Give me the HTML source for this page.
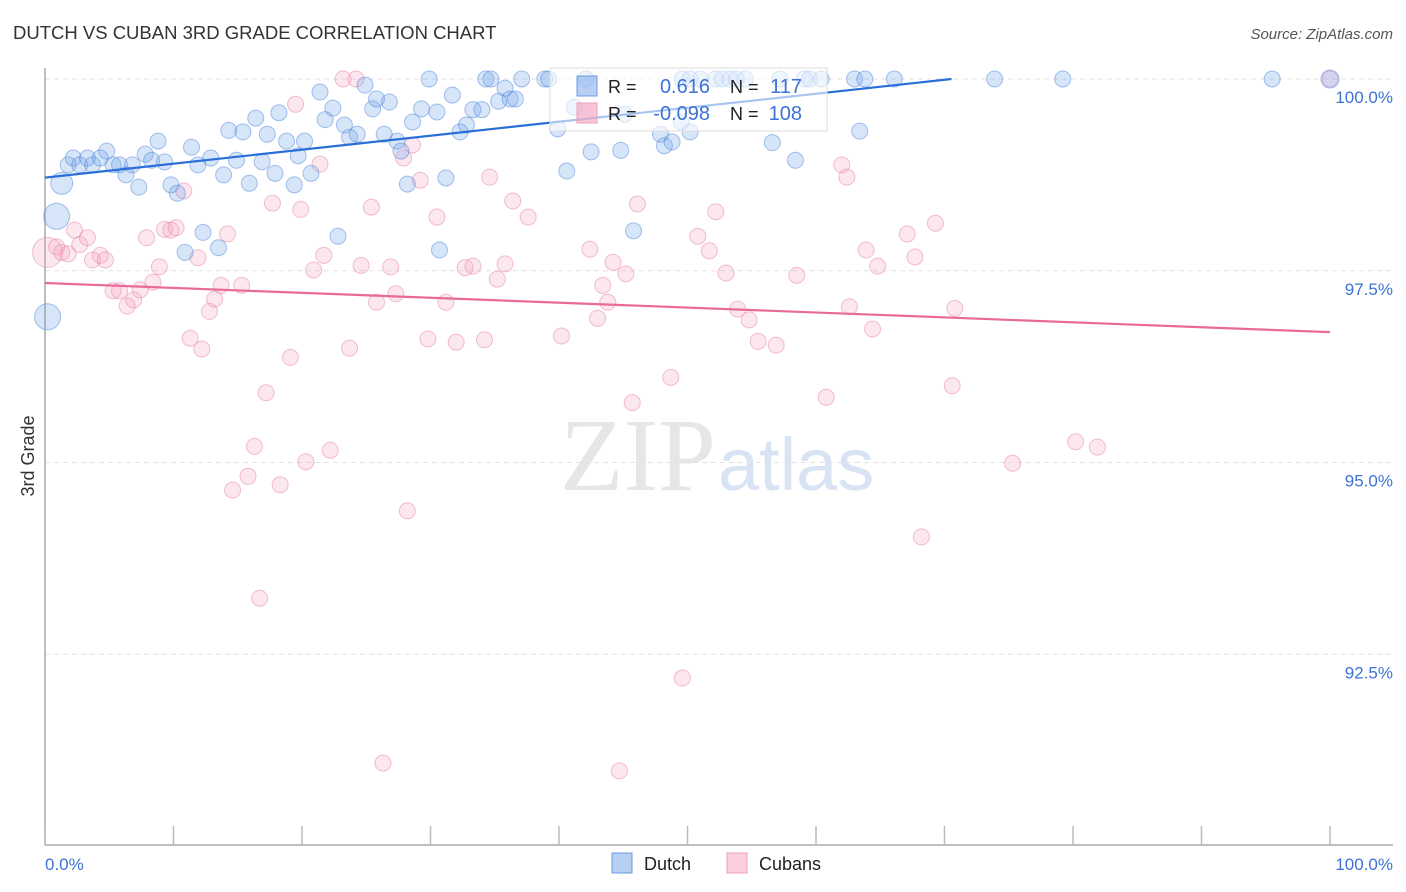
<!DOCTYPE html>
<html><head><meta charset="utf-8"><style>
body{margin:0;background:#fff;font-family:"Liberation Sans",sans-serif}
svg{display:block}
</style></head><body>
<svg id="chart" width="1406" height="892" xmlns="http://www.w3.org/2000/svg">
<text x="13" y="39" font-size="18.5" fill="#333">DUTCH VS CUBAN 3RD GRADE CORRELATION CHART</text>
<text x="1393" y="39" font-size="15" font-style="italic" fill="#555" text-anchor="end">Source: ZipAtlas.com</text>
<text x="716" y="490" font-size="104" font-family="Liberation Serif,serif" fill="#e6e6e6" text-anchor="end">ZIP</text>
<text x="718" y="490" font-size="74" fill="#d8e4f4">atlas</text>
<text transform="translate(34,456) rotate(-90)" font-size="18" fill="#333" text-anchor="middle">3rd Grade</text>
<g id="grid"></g><g id="axes"></g><g id="pts"></g><g id="trend"></g><g id="legend"></g>
</svg>
<script>
const dutchX=[1.3,0.9,0.2,1.8,2.2,2.7,3.3,3.7,4.3,4.8,5.3,5.8,6.3,6.8,7.3,7.8,8.3,8.8,9.3,9.8,10.3,10.9,11.4,11.9,12.3,12.9,13.5,13.9,14.3,14.9,15.4,15.9,16.4,16.9,17.3,17.9,18.2,18.8,19.4,19.7,20.2,20.7,21.4,21.8,22.4,22.8,23.3,23.7,24.3,24.9,25.5,25.8,26.4,26.8,27.4,27.7,28.2,28.6,29.3,29.9,30.5,31.2,30.7,31.7,32.3,32.8,33.3,34.0,34.3,34.7,35.3,35.8,36.2,36.6,37.1,38.9,39.2,39.9,40.6,41.2,42.1,42.5,44.8,45.1,45.8,47.9,48.2,48.8,49.5,50.2,49.6,50.2,51.0,52.2,52.7,53.3,53.8,54.5,56.6,57.2,58.4,59.1,59.5,60.4,63.0,63.4,63.8,66.1,73.9,79.2,95.5,100];
const dutchY=[98.64,98.21,96.90,98.88,98.97,98.88,98.97,98.88,98.97,99.06,98.88,98.88,98.75,98.88,98.59,99.02,98.94,99.19,98.92,98.62,98.51,97.74,99.11,98.88,98.00,98.97,97.80,98.75,99.33,98.94,99.31,98.64,99.49,98.92,99.28,98.77,99.56,99.19,98.62,99.00,99.19,98.77,99.83,99.47,99.62,97.95,99.40,99.24,99.28,99.92,99.61,99.74,99.28,99.70,99.19,99.06,98.63,99.44,99.61,100,99.57,98.71,97.77,99.79,99.31,99.40,99.60,99.60,100,100,99.71,99.88,99.74,99.74,100,100,100,99.35,98.80,99.63,100,99.05,99.07,99.54,98.02,99.28,99.13,99.18,99.44,99.31,100,100,100,100,100,100,100,100,99.17,100,98.94,100,100,100,100,99.32,100,100,100,100,100,100];
const dutchBig={0:11,1:13,2:13,111:9};
const cubanX=[0.2,0.9,1.3,1.8,2.3,2.7,3.3,3.7,4.3,4.7,5.3,5.8,6.4,6.9,7.4,7.9,8.4,8.9,9.3,9.8,10.2,10.8,11.3,11.9,12.2,12.8,13.2,13.7,14.2,15.3,14.6,15.8,16.3,16.7,17.2,17.7,18.3,19.1,19.5,19.9,20.3,20.9,21.4,21.7,22.2,23.2,23.7,24.2,24.6,25.4,25.8,26.3,26.9,27.3,27.9,28.2,28.6,29.2,29.8,30.5,31.2,32.0,32.7,33.3,34.2,34.6,35.2,35.8,36.4,37.6,40.2,42.0,42.4,43.4,43.8,44.2,43.0,44.7,45.2,45.7,46.1,48.7,49.6,50.8,51.7,52.2,53.0,53.9,54.8,55.5,56.9,58.5,60.8,62.0,62.4,62.6,63.9,64.4,64.8,67.1,67.7,68.2,69.3,70.6,70.8,75.3,80.2,81.9,100];
const cubanY=[97.74,97.81,97.74,97.72,98.03,97.84,97.93,97.64,97.70,97.64,97.24,97.24,97.04,97.12,97.25,97.93,97.35,97.55,98.04,98.03,98.06,98.54,96.62,97.67,96.48,96.97,97.13,97.31,97.98,97.31,94.64,94.82,95.21,93.23,95.91,98.38,94.71,96.37,99.67,98.30,95.01,97.51,98.89,97.70,95.16,100,96.49,100,97.57,98.33,97.09,91.08,97.55,97.20,98.97,94.37,99.14,98.68,96.61,98.20,97.09,96.57,97.54,97.56,96.60,98.72,97.39,97.59,98.41,98.20,96.65,99.57,97.78,97.31,97.09,97.61,96.88,90.98,97.46,95.78,98.37,96.11,92.19,97.95,97.76,98.27,97.47,97.00,96.86,96.58,96.53,97.44,95.85,98.88,98.72,97.03,97.77,96.74,97.56,97.98,97.68,94.03,98.12,96.00,97.01,94.99,95.27,95.20,100];
const cubanBig={0:15};
const yTicks=[100,97.5,95,92.5];
const yTickLabels=["100.0%","97.5%","95.0%","92.5%"];
const xTicks=[0,10,20,30,40,50,60,70,80,90,100];
const legendR=["0.616","-0.098"];
const legendN=["117","108"];
const NS="http://www.w3.org/2000/svg";
const X0=45,X1=1330,Y100=79,PX=76.7;
function xs(v){return X0+(v/100)*(X1-X0);}
function ys(v){return Y100+(100-v)*PX;}
function mk(tag,attrs,parent){const e=document.createElementNS(NS,tag);for(const k in attrs)e.setAttribute(k,attrs[k]);parent.appendChild(e);return e;}
const grid=document.getElementById('grid'),axes=document.getElementById('axes'),pts=document.getElementById('pts'),trend=document.getElementById('trend'),leg=document.getElementById('legend');
yTicks.forEach((t,i)=>{
 const l=mk('line',{x1:45,x2:1393,y1:ys(t),y2:ys(t),stroke:'#e2e2e2','stroke-dasharray':'5,4'},grid);
 
 
 const tx=mk('text',{x:1393,y:ys(t)+24,'font-size':17,fill:'#3d72d6','text-anchor':'end'},grid);
 tx.textContent=yTickLabels[i];
 
 
});
const ya=mk('line',{x1:45,x2:45,y1:68,y2:845,stroke:'#aaa','stroke-width':1.5},axes);


const xa=mk('line',{x1:45,x2:1393,y1:845,y2:845,stroke:'#aaa','stroke-width':1.5},axes);


xTicks.forEach(t=>{
 const l=mk('line',{x1:xs(t),x2:xs(t),y1:826,y2:845,stroke:'#bbb','stroke-width':1.5},axes);
 
 
});
const xl0=mk('text',{x:45,y:870,'font-size':17,fill:'#3d72d6'},axes);xl0.textContent='0.0%';


const xl1=mk('text',{x:1393,y:870,'font-size':17,fill:'#3d72d6','text-anchor':'end'},axes);xl1.textContent='100.0%';


function drawPts(X,Y,big,fill,stroke,name){
 X.forEach((x,i)=>{
  const c=mk('circle',{cx:xs(x),cy:ys(Y[i]),r:big[i]||8,fill:fill,stroke:stroke,'stroke-width':1},pts);
  
  
 });
}
drawPts(cubanX,cubanY,cubanBig,'rgba(244,160,190,0.25)','rgba(232,130,165,0.5)','cuban-point');
drawPts(dutchX,dutchY,dutchBig,'rgba(110,160,232,0.28)','rgba(80,135,220,0.5)','dutch-point');
function fit(X,Y){const n=X.length;let sx=0,sy=0,sxx=0,sxy=0;for(let i=0;i<n;i++){sx+=X[i];sy+=Y[i];sxx+=X[i]*X[i];sxy+=X[i]*Y[i];}const b=(n*sxy-sx*sy)/(n*sxx-sx*sx);return [(sy-b*sx)/n,b];}
function drawTrend(X,Y,color,name){
 const [a,b]=fit(X,Y);let xe=100;if(b>0&&a+b*100>100)xe=(100-a)/b;
 const l=mk('line',{x1:xs(0),y1:ys(a),x2:xs(xe),y2:ys(a+b*xe),stroke:color,'stroke-width':2.2},trend);
 
 
}
drawTrend(dutchX,dutchY,'#2a6fd8','dutch-trend-line');
drawTrend(cubanX,cubanY,'#e8699a','cuban-trend-line');
const lb=mk('rect',{x:550,y:68,width:277,height:63,fill:'rgba(255,255,255,0.6)',stroke:'#ddd'},leg);


[['rgba(110,160,232,0.5)','#6a9be0'],['rgba(244,160,190,0.6)','#eea0bc']].forEach((c,i)=>{
 const y=86+i*27;
 const s=mk('rect',{x:577,y:y-10,width:20,height:20,fill:c[0],stroke:c[1]},leg);
 
 
 const t1=mk('text',{x:608,y:y+7,'font-size':18,fill:'#222'},leg);t1.textContent='R =';
 
 
 const t2=mk('text',{x:710,y:y+7,'font-size':20,fill:'#3d72d6','text-anchor':'end'},leg);t2.textContent=legendR[i];
 
 
 const t3=mk('text',{x:730,y:y+7,'font-size':18,fill:'#222'},leg);t3.textContent='N =';
 
 
 const t4=mk('text',{x:802,y:y+7,'font-size':20,fill:'#3d72d6','text-anchor':'end'},leg);t4.textContent=legendN[i];
 
 
});
[['Dutch',612,'rgba(110,160,232,0.5)','#6a9be0'],['Cubans',727,'rgba(244,160,190,0.5)','#eea0bc']].forEach(d=>{
 const s=mk('rect',{x:d[1],y:853,width:20,height:20,fill:d[2],stroke:d[3]},leg);
 
 
 const t=mk('text',{x:d[1]+32,y:870,'font-size':18,fill:'#222'},leg);t.textContent=d[0];
 
 
});
</script>
</body></html>
